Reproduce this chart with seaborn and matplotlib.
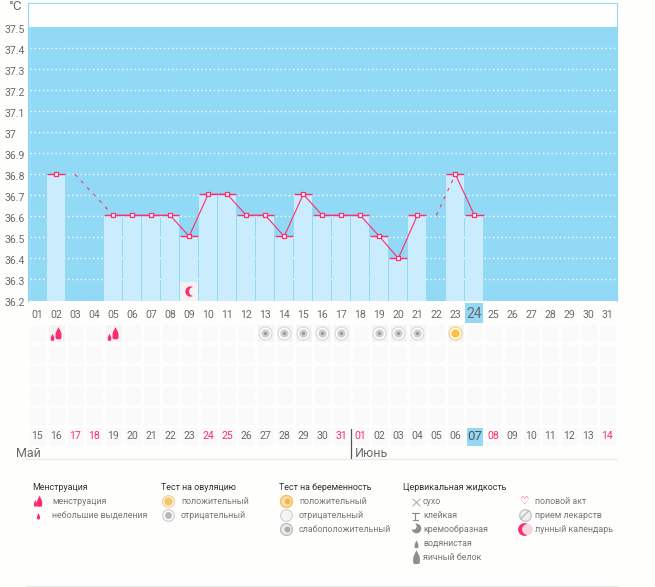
import numpy as np
import pandas as pd
import matplotlib
matplotlib.use("Agg")
import matplotlib.pyplot as plt
import seaborn as sns
from matplotlib.colors import ListedColormap
from matplotlib.path import Path
from matplotlib.transforms import ScaledTranslation

# ---------- data ----------
cycle_days = [f"{d:02d}" for d in range(1, 32)]
temps = [None, 36.8, None, None, 36.605, 36.605, 36.605, 36.605, 36.505, 36.705, 36.705,
         36.605, 36.605, 36.505, 36.705, 36.605, 36.605, 36.605, 36.505, 36.4, 36.605,
         None, 36.8, 36.605, None, None, None, None, None, None, None]
solid_days = [5, 6, 7, 8, 9, 10, 11, 12, 13, 14, 15, 16, 17, 18, 19, 20, 21]
solid_days2 = [23, 24]
dash_days = [3, 5]
dash_temps = [36.8, 36.605]
dash_days2 = [22, 23]
dash_temps2 = [36.605, 36.8]
y_ticks = [36.2, 36.3, 36.4, 36.5, 36.6, 36.7, 36.8, 36.9, 37.0, 37.1, 37.2, 37.3, 37.4, 37.5]
y_labels = ["36.2", "36.3", "36.4", "36.5", "36.6", "36.7", "36.8", "36.9", "37",
            "37.1", "37.2", "37.3", "37.4", "37.5"]
today_day = 24
cal_days = ["15", "16", "17", "18", "19", "20", "21", "22", "23", "24", "25", "26", "27", "28", "29", "30", "31",
            "01", "02", "03", "04", "05", "06", "07", "08", "09", "10", "11", "12", "13", "14"]
red_cal_idx = [2, 3, 9, 10, 16, 17, 24, 30]
today_cal_idx = 23
moon_days = [9]
flow_days = [2, 5]
neg_ovulation_days = [13, 14, 15, 16, 17, 19, 20, 21]
pos_ovulation_days = [23]
legend_groups = {
    "Менструация": ["менструация", "небольшие выделения"],
    "Тест на овуляцию": ["положительный", "отрицательный"],
    "Тест на беременность": ["положительный", "отрицательный", "слабоположительный"],
    "Цервикальная жидкость": ["сухо", "клейкая", "кремообразная", "водянистая", "яичный белок"],
}
other_items = ["половой акт", "прием лекарств", "лунный календарь"]

# ---------- style ----------
W, H = 655, 587
PINK = "#FF2D6E"
SKY = "#92D9F5"
BAR = "#CBECFD"
TXT = "#6A6A6A"
BG = "#FEFEFD"
FONT = ["Roboto", "DejaVu Sans"]
sns.set_theme(style="white")
plt.rcParams["font.family"] = FONT

fig = plt.figure(figsize=(W / 100, H / 100), dpi=100, facecolor=BG)


def box(l, t, r, b):
    return [l / W, 1 - b / H, (r - l) / W, (b - t) / H]


# ---------- main chart ----------
ax = fig.add_axes(box(27.5, 3, 617, 300.5))
ax.set_facecolor("white")
ax.set_ylim(36.2, 37.614)
ax.axhspan(36.2, 37.5, color=SKY, lw=0, zorder=0)
for y in y_ticks[:-1]:
    ax.plot([-0.35, 30.5], [y, y], color="white", lw=1, ls=(0, (1, 2)), zorder=0.5,
            clip_on=False if y == 36.2 else True)
ax.plot([-0.35, -0.35], [36.2, 37.5], color="#B4E5F8", lw=0.8, ls=(0, (1, 2)), zorder=0.5)

df = pd.DataFrame({"day": cycle_days, "t": temps})
df["t"] = pd.to_numeric(df["t"])
sns.barplot(data=df, x="day", y="t", order=cycle_days, color=BAR, saturation=1,
            width=0.95, ax=ax, zorder=1, errorbar=None, linewidth=0)
ax.set_xlim(-0.5, 30.5)
ax.set_ylim(36.2, 37.614)

temp_of = dict(zip(range(1, 32), temps))
segs = []
for sid, days in enumerate([solid_days, solid_days2]):
    segs += [{"x": d - 1, "t": temp_of[d], "seg": sid} for d in days]
sns.lineplot(data=pd.DataFrame(segs), x="x", y="t", units="seg", estimator=None, color=PINK,
             lw=0.8, ax=ax, zorder=3)
dseg = [{"x": d - 1, "t": t, "seg": 0} for d, t in zip(dash_days, dash_temps)] + \
       [{"x": d - 1, "t": t, "seg": 1} for d, t in zip(dash_days2, dash_temps2)]
sns.lineplot(data=pd.DataFrame(dseg), x="x", y="t", units="seg", estimator=None, color=PINK,
             lw=0.8, ax=ax, zorder=3, linestyle=(0, (3, 5)))

known = df.dropna()
pos = known.index.to_numpy()
ax.hlines(known["t"], pos - 0.48, pos + 0.48, color=PINK, lw=1.0, zorder=3)
sns.scatterplot(x=pos, y=known["t"].to_numpy(), marker="s", s=10, color="white", edgecolor=PINK,
                linewidth=0.9, ax=ax, zorder=4)
ax.set_xlabel("")
ax.set_ylabel("")

# moon box and glyph
for d in moon_days:
    ax.bar(d - 1, 0.09, bottom=36.2, width=0.95, color="#F3F3F3", lw=0, zorder=2)
    ax.scatter([d - 1 + 0.04], [36.245], s=55, color=PINK, lw=0, zorder=3)
    ax.scatter([d - 1 + 0.2], [36.245], s=42, color="#F3F3F3", lw=0, zorder=3)

# today box on the day row
ax.bar(today_day - 1, 0.095, bottom=36.093, width=0.95, color=SKY, lw=0, clip_on=False, zorder=0.2)

ax.set_yticks(y_ticks)
ax.set_yticklabels(y_labels)
ax.tick_params(axis="y", length=0, pad=22.5 * 0.72, labelsize=7.6, labelcolor=TXT)
for lab in ax.get_yticklabels():
    lab.set_ha("left")
    lab.set_transform(lab.get_transform() + ScaledTranslation(0, -2 / 100, fig.dpi_scale_trans))
ax.set_xticks(range(31))
ax.set_xticklabels(cycle_days)
ax.tick_params(axis="x", length=0, pad=6.5, labelsize=7.6, labelcolor=TXT)
today_lab = ax.get_xticklabels()[today_day - 1]
today_lab.set_fontsize(10)
today_lab.set_transform(today_lab.get_transform() + ScaledTranslation(0, 2.5 / 100, fig.dpi_scale_trans))
ax.spines["bottom"].set_visible(False)
for s in ["left", "right", "top"]:
    ax.spines[s].set_color(SKY)
    ax.spines[s].set_linewidth(0.8)

# ---------- calendar grid ----------
cal = fig.add_axes(box(27.5, 322.5, 617, 447))
grid = np.zeros((6, 31))
for d in flow_days + neg_ovulation_days + pos_ovulation_days:
    grid[0, d - 1] = 1
grid[5, today_cal_idx] = 2
sns.heatmap(grid, ax=cal, cmap=ListedColormap(["#FBFAFB", "#F4F4F5", SKY]), vmin=0, vmax=2,
            cbar=False, linewidths=1.0, linecolor=BG, xticklabels=False, yticklabels=False, square=False)
for i, lab in enumerate(cal_days):
    today = i == today_cal_idx
    cal.text(i + 0.5, 5.48, lab, ha="center", va="center",
             fontsize=9.5 if today else 7.6,
             color=PINK if i in red_cal_idx else ("#555555" if today else TXT))
nx = np.array(neg_ovulation_days) - 0.5
cal.scatter(nx, [0.5] * len(nx), s=85, c="white", edgecolors="#D8D8D8", lw=0.8, zorder=3)
cal.scatter(nx, [0.5] * len(nx), s=36, c="#CFCFCF", lw=0, zorder=4)
cal.scatter(nx, [0.5] * len(nx), s=6, c="#9A9A9A", lw=0, zorder=5)
px_ = np.array(pos_ovulation_days) - 0.5
cal.scatter(px_, [0.5], s=85, c="white", edgecolors="#F6D27C", lw=0.9, zorder=3)
cal.scatter(px_, [0.5], s=36, c="#FBC24A", lw=0, zorder=4)

drop = Path([(0, 1), (0.35, 0.3), (0.6, -0.2), (0.4, -0.85), (0, -1), (-0.4, -0.85), (-0.6, -0.2), (-0.35, 0.3), (0, 1)],
            [Path.MOVETO, Path.LINETO, Path.CURVE3, Path.CURVE3, Path.CURVE3, Path.CURVE3, Path.CURVE3, Path.LINETO, Path.CLOSEPOLY])
fx = np.array(flow_days) - 0.5
cal.scatter(fx + 0.08, [0.5] * len(fx), marker=drop, s=85, c=PINK, lw=0, zorder=4)
cal.scatter(fx - 0.2, [0.68] * len(fx), marker=drop, s=28, c=PINK, lw=0, zorder=4)

# ---------- overlay in pixel units for month labels and legend ----------
ov = fig.add_axes([0, 0, 1, 1], facecolor="none")
ov.set_xlim(0, W)
ov.set_ylim(H, 0)
ov.axis("off")
ov.plot([26, 617], [458.5, 458.5], color="#E9E9E9", lw=0.9)
ov.plot([26, 617], [586, 586], color="#E9E9E9", lw=0.9)
ov.plot([350.5, 350.5], [429, 458], color="#555555", lw=0.9)
ov.text(16, 453.5, "Май", fontsize=9, color=TXT, va="center")
ov.text(354.5, 453.5, "Июнь", fontsize=9, color=TXT, va="center")
ov.text(8, 7, "°C", fontsize=9.5, color=TXT, va="center")

FS = 6.4
HEAD = "#333333"
LEG = "#777777"
col_x = {"Менструация": (32, 37, 52), "Тест на овуляцию": (161, 167, 181),
         "Тест на беременность": (279, 286, 299), "Цервикальная жидкость": (403, 415, 423)}
rows = [501, 515, 529, 543, 557]
for head, items in legend_groups.items():
    hx, ix, tx = col_x[head]
    ov.text(hx, 487, head, fontsize=FS, color=HEAD, va="center")
    for it, y in zip(items, rows):
        ov.text(tx, y, it, fontsize=FS, color=LEG, va="center")
for it, y in zip(other_items, rows):
    ov.text(535, y, it, fontsize=FS, color=LEG, va="center")

# legend icons
ov.scatter([38.5], [501], marker=drop, s=70, c=PINK, lw=0)
ov.scatter([34.5], [503], marker=drop, s=24, c=PINK, lw=0)
ov.scatter([37.5], [515.5], marker=drop, s=22, c=PINK, lw=0)
ov.scatter([167.5], [500.5], s=70, c="white", edgecolors="#F5CF86", lw=0.9)
ov.scatter([167.5], [500.5], s=36, c="#F6C46A", lw=0)
ov.scatter([167.5], [514.5], s=70, c="white", edgecolors="#CFCFCF", lw=0.9)
ov.scatter([167.5], [514.5], s=26, c="#B8B8B8", lw=0)
ov.scatter([286], [500.5], s=72, c="#F9E2B5", edgecolors="#F5C36A", lw=1.2)
ov.scatter([286.5], [500.5], s=18, c="#F6B54D", lw=0)
ov.scatter([286], [515], s=72, c="#F4F4F4", edgecolors="#D5D5D5", lw=0.9)
ov.scatter([286], [529], s=72, c="#EDEDED", edgecolors="#BDBDBD", lw=1.0)
ov.scatter([286.5], [529], s=18, c="#AAAAAA", lw=0)
ov.scatter([415.5], [501.5], marker="x", s=30, c="#9A9A9A", lw=0.6)
ov.plot([411.5, 419], [513, 513], color="#888888", lw=0.8)
ov.plot([415.2, 415.2], [513, 520], color="#888888", lw=0.8)
ov.plot([413, 417.5], [520, 520], color="#888888", lw=0.8)
ov.scatter([415.5], [528], s=48, c="#8F8F8F", lw=0)
ov.scatter([413], [526], s=20, c=BG, lw=0)
ov.scatter([415.5], [543.5], marker=drop, s=34, c="#8F8F8F", lw=0)
ov.scatter([415.5], [557], marker=drop, s=110, c="#8F8F8F", lw=0)
ov.text(524.5, 501, "♡", family="DejaVu Sans", fontsize=7.5, color=PINK, ha="center", va="center")
ov.scatter([524.5], [515], s=70, c="#EFEFEF", edgecolors="#C4C4C4", lw=0.9)
ov.plot([520.5, 528.5], [519, 511], color="#BBBBBB", lw=0.9)
ov.scatter([523.5], [529], s=85, c=PINK, lw=0)
ov.scatter([527], [529], s=62, c="#F8D5E2", lw=0)

fig.savefig("out.png", dpi=100, facecolor=BG)
